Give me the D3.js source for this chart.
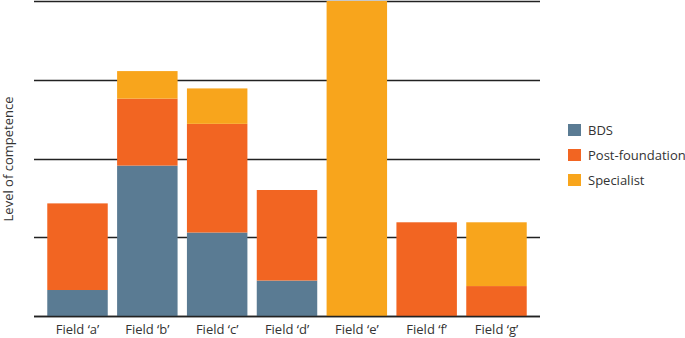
<!DOCTYPE html>
<html>
<head>
<meta charset="utf-8">
<script src="https://cdn.jsdelivr.net/npm/d3@7"></script>
<style>
  body { margin: 0; background: #fff; }
  text { font-family: "Open Sans", "Noto Sans", sans-serif; fill: #333; }
</style>
</head>
<body>
<div id="chart"></div>
<script>
// data
var fields = ["Field \u2018a\u2019", "Field \u2018b\u2019", "Field \u2018c\u2019", "Field \u2018d\u2019",
              "Field \u2018e\u2019", "Field \u2018f\u2019", "Field \u2018g\u2019"];
var seriesNames = ["BDS", "Post-foundation", "Specialist"];
var bds            = [0.33, 1.91, 1.06, 0.45, 0,    0,    0];
var postFoundation = [1.10, 0.85, 1.38, 1.15, 0,    1.19, 0.38];
var specialist     = [0,    0.35, 0.45, 0,    4.0,  0,    0.81];
var gridTicks = [0, 1, 2, 3, 4];
var colors = ["#5a7b93", "#f26522", "#f8a51c"];

var width = 685, height = 338;
var margin = {top: 1, left: 34, right: 145, bottom: 22};

var rows = fields.map(function(f, i) {
  return {field: f, "BDS": bds[i], "Post-foundation": postFoundation[i], "Specialist": specialist[i]};
});

var svg = d3.select("#chart").append("svg")
  .attr("width", width)
  .attr("height", height);

var x = d3.scaleBand()
  .domain(fields)
  .range([margin.left, width - margin.right])
  .paddingInner(0.134)
  .paddingOuter(0.19);

var y = d3.scaleLinear()
  .domain([0, 4])
  .range([height - margin.bottom, margin.top]);

// gridlines
svg.append("g")
  .selectAll("line")
  .data(gridTicks)
  .enter()
  .append("line")
    .attr("x1", margin.left)
    .attr("x2", width - margin.right)
    .attr("y1", function(d) { return Math.round(y(d)) + 0.5; })
    .attr("y2", function(d) { return Math.round(y(d)) + 0.5; })
    .attr("stroke", "#222")
    .attr("stroke-width", 1.6);

var stacked = d3.stack().keys(seriesNames)(rows);

svg.append("g")
  .selectAll("g")
  .data(stacked)
  .enter()
  .append("g")
    .attr("fill", function(d, i) { return colors[i]; })
  .selectAll("rect")
  .data(function(d) { return d; })
  .enter()
  .append("rect")
    .attr("x", function(d) { return x(d.data.field); })
    .attr("width", x.bandwidth())
    .attr("y", function(d) { return y(d[1]); })
    .attr("height", function(d) { return y(d[0]) - y(d[1]); });

// baseline on top of bars
svg.append("line")
  .attr("x1", margin.left)
  .attr("x2", width - margin.right)
  .attr("y1", y(0) + 0.5)
  .attr("y2", y(0) + 0.5)
  .attr("stroke", "#222")
  .attr("stroke-width", 1.6);

// x labels
var xAxis = d3.axisBottom(x).tickSize(0).tickPadding(9);
var xg = svg.append("g")
  .attr("transform", "translate(0," + y(0) + ")")
  .call(xAxis);
xg.select(".domain").remove();
xg.selectAll("text")
  .style("font-family", "'Open Sans', sans-serif")
  .style("font-size", "13px")
  .attr("fill", "#333");

// y title
svg.append("text")
  .attr("transform", "translate(13,159) rotate(-90)")
  .attr("text-anchor", "middle")
  .style("font-size", "13px")
  .text("Level of competence");

// legend
var legend = svg.append("g")
  .selectAll("g")
  .data(seriesNames)
  .enter()
  .append("g")
    .attr("transform", function(d, i) { return "translate(568," + (124 + i * 25) + ")"; });

legend.append("rect")
  .attr("width", 13)
  .attr("height", 12)
  .attr("fill", function(d, i) { return colors[i]; });

legend.append("text")
  .attr("x", 20)
  .attr("y", 11)
  .style("font-size", "13px")
  .text(function(d) { return d; });
</script>
</body>
</html>
